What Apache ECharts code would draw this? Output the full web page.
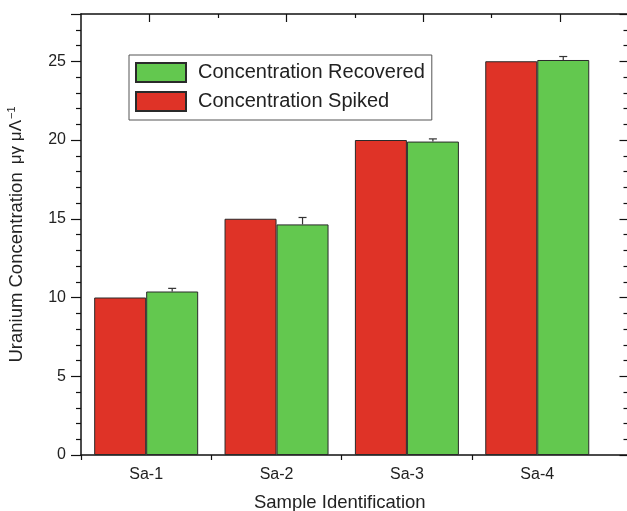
<!DOCTYPE html>
<html>
<head>
<meta charset="utf-8">
<script src="https://cdn.jsdelivr.net/npm/echarts@6/dist/echarts.min.js"></script>
<style>
html,body{margin:0;padding:0;background:#fff;}
#chart{width:627px;height:511px;}
</style>
</head>
<body>
<div id="chart"></div>
<script>
// ---- data ----
const categories = ['Sa-1', 'Sa-2', 'Sa-3', 'Sa-4'];
const categoryPositions = [1, 2, 3, 4];
const spiked = [10, 15, 20, 25];
const recovered = [10.38, 14.64, 19.9, 25.08];
const recoveredErr = [0.2, 0.44, 0.17, 0.22];
const yTicks = [0, 5, 10, 15, 20, 25];

// ---- styles ----
const RED = '#df3327';
const GREEN = '#63c84f';
const BORDER = '#2a2a2a';
const FONT = 'Liberation Sans, Arial, Helvetica, sans-serif';
const BAR_W = 52;

const spikedData = categoryPositions.map((x, i) => [x, spiked[i]]);
const recoveredData = categoryPositions.map((x, i) => [x, recovered[i]]);
const errData = categoryPositions.map((x, i) => [x, recovered[i], recoveredErr[i]]);

const chart = echarts.init(document.getElementById('chart'), null, {renderer: 'canvas'});

const axisLine = {show: true, onZero: false, lineStyle: {color: '#111', width: 1.5}};

chart.setOption({
  animation: false,
  backgroundColor: '#fff',
  textStyle: {fontFamily: FONT},
  grid: {left: 81, top: 14, width: 547.5, height: 441, containLabel: false, outerBoundsMode: 'none'},
  legend: {
    orient: 'vertical',
    left: 129, top: 55,
    data: ['Concentration Recovered', 'Concentration Spiked'],
    icon: 'rect',
    itemWidth: 50, itemHeight: 19, itemGap: 8,
    borderColor: '#555', borderWidth: 1,
    padding: [7, 7, 8, 6],
    textStyle: {fontSize: 20, color: '#222', fontFamily: FONT, padding: [0, 0, 0, 7]}
  },
  xAxis: [
    {
      type: 'value', position: 'bottom', min: 0.5, max: 4.7,
      axisLine: axisLine,
      axisTick: {show: true, length: 5, customValues: [0.5, 1.5, 2.5, 3.5], lineStyle: {color: '#111', width: 1.2}},
      axisLabel: {
        show: true, customValues: categoryPositions, fontSize: 16, color: '#222', margin: 12, fontFamily: FONT,
        formatter: v => categories[categoryPositions.indexOf(Math.round(v))] || ''
      },
      splitLine: {show: false},
      name: 'Sample Identification', nameLocation: 'middle', nameGap: 38,
      nameTextStyle: {fontSize: 18.5, color: '#222', fontFamily: FONT, padding: [0, 30, 0, 0]}
    },
    {
      type: 'value', position: 'top', min: 0.5, max: 4.5,
      axisLine: axisLine,
      axisTick: {show: true, inside: true, length: 8, customValues: [1, 2, 3, 4], lineStyle: {color: '#111', width: 1.2}},
      axisLabel: {show: false},
      splitLine: {show: false}
    },
    {
      type: 'value', position: 'top', min: 0.5, max: 4.5, offset: 0,
      axisLine: {show: false, onZero: false},
      axisTick: {show: true, inside: true, length: 4, customValues: [1.5, 2.5, 3.5], lineStyle: {color: '#111', width: 1.2}},
      axisLabel: {show: false},
      splitLine: {show: false}
    }
  ],
  yAxis: [
    {
      type: 'value', position: 'left', min: 0, max: 28, interval: 5,
      axisLine: axisLine,
      axisTick: {show: true, length: 10, lineStyle: {color: '#111', width: 1.2}},
      minorTick: {show: true, splitNumber: 5, length: 5, lineStyle: {color: '#111', width: 1.2}},
      axisLabel: {fontSize: 16, color: '#222', margin: 15, fontFamily: FONT,
        formatter: v => yTicks.indexOf(v) >= 0 ? String(v) : ''},
      splitLine: {show: false},
      name: 'Uranium Concentration {g|μγ μΛ}{s|−1}',
      nameLocation: 'middle', nameGap: 54,
      nameTextStyle: {
        fontSize: 18.5, color: '#222', fontFamily: FONT,
        rich: {
          g: {fontSize: 17, color: '#222', fontFamily: FONT, padding: [0, 0, 0, 3]},
          s: {fontSize: 11, color: '#222', verticalAlign: 'top', padding: [0, 0, 10, 1]}
        }
      }
    },
    {
      type: 'value', position: 'right', min: 0, max: 28, interval: 5,
      axisLine: axisLine,
      axisTick: {show: true, inside: true, length: 9, lineStyle: {color: '#111', width: 1.2}},
      minorTick: {show: true, splitNumber: 5, length: 5, lineStyle: {color: '#111', width: 1.2}},
      axisLabel: {show: false},
      splitLine: {show: false}
    }
  ],
  series: [
    {
      name: 'Concentration Spiked', type: 'bar', xAxisIndex: 0, yAxisIndex: 0,
      data: spikedData, barWidth: BAR_W, barGap: '0%',
      itemStyle: {color: RED, borderColor: BORDER, borderWidth: 1}
    },
    {
      name: 'Concentration Recovered', type: 'bar', xAxisIndex: 0, yAxisIndex: 0,
      data: recoveredData, barWidth: BAR_W, barGap: '0%',
      itemStyle: {color: GREEN, borderColor: BORDER, borderWidth: 1}
    },
    {
      name: 'err', type: 'custom', xAxisIndex: 0, yAxisIndex: 0, z: 10,
      data: errData,
      encode: {x: 0, y: 1},
      renderItem: function (params, api) {
        const x = api.value(0), y = api.value(1), e = api.value(2);
        const p0 = api.coord([x, y]);
        const p1 = api.coord([x, y + e]);
        const cx = p0[0] + BAR_W / 2;
        const half = 4;
        const st = {stroke: '#333', lineWidth: 1.2};
        return {
          type: 'group',
          children: [
            {type: 'line', shape: {x1: cx, y1: p0[1], x2: cx, y2: p1[1]}, style: st},
            {type: 'line', shape: {x1: cx - half, y1: p1[1], x2: cx + half, y2: p1[1]}, style: st}
          ]
        };
      }
    }
  ]
});
</script>
</body>
</html>
